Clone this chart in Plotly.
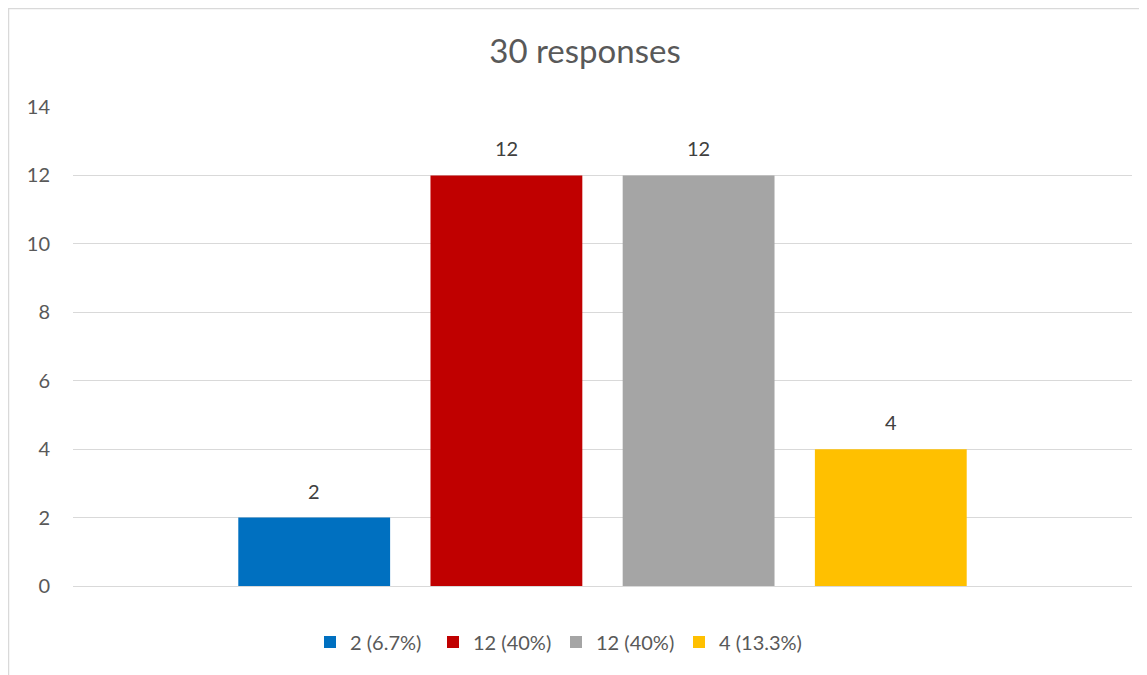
import plotly.graph_objects as go

series_names = ["2 (6.7%)", "12 (40%)", "12 (40%)", "4 (13.3%)"]
series_values = [2, 12, 12, 4]
series_colors = ["#0070C0", "#C00000", "#A5A5A5", "#FFC000"]
y_ticks = [0, 2, 4, 6, 8, 10, 12, 14]
title_text = "30 responses"

FONT = "Lato, 'Open Sans', sans-serif"
TXT = "#595959"

# figure sits at (8, 8) in the page because of the default body margin
W, H = 1139, 667
L, R, T, B = 65, 15, 99, 89
pw, ph = W - L - R, H - T - B

def px_x(x):
    return (x - L) / pw

def px_y(y):
    return (H - B - y) / ph

fig = go.Figure()
for i, (name, val, col) in enumerate(zip(series_names, series_values, series_colors)):
    fig.add_trace(go.Bar(
        x=[i], y=[val], name=name, width=0.79,
        marker=dict(color=col, line=dict(width=0)),
        hovertemplate="%{y}<extra>" + name + "</extra>",
    ))
    fig.add_annotation(x=i, y=val, xref="x", yref="y", text=str(val),
                       showarrow=False, yanchor="bottom", yshift=13,
                       font=dict(family=FONT, size=20, color="#404040"))

fig.update_layout(
    width=W, height=H,
    margin=dict(l=L, r=R, t=T, b=B, pad=0),
    paper_bgcolor="white", plot_bgcolor="white",
    barmode="overlay",
    title=dict(text=title_text, x=px_x(585 - 8), xanchor="center", xref="paper",
               y=1 - 43 / H, yanchor="middle",
               font=dict(family=FONT, size=33, color=TXT)),
    font=dict(family=FONT, size=20, color=TXT),
    legend=dict(orientation="h", x=px_x(556 - 8), xanchor="center", xref="paper",
                y=px_y(634), yanchor="middle", font=dict(family=FONT, size=20, color=TXT),
                itemwidth=30, traceorder="normal", entrywidth=78, entrywidthmode="pixels"),
    showlegend=True,
    xaxis=dict(range=[-1.255, 4.255], showticklabels=False, showgrid=False, zeroline=False,
               showline=False, ticks=""),
    yaxis=dict(range=[0, 14], tickvals=y_ticks, showgrid=True, gridcolor="#D9D9D9", gridwidth=1,
               zeroline=True, zerolinecolor="#D9D9D9", zerolinewidth=1, showline=False,
               ticks="", ticklabelstandoff=22, tickfont=dict(family=FONT, size=20, color=TXT)),
    shapes=[dict(type="rect", xref="paper", yref="paper",
                 x0=px_x(0.5), x1=px_x(W + 5), y0=px_y(H + 5), y1=px_y(0.5),
                 line=dict(color="#D9D9D9", width=1.5), fillcolor="rgba(0,0,0,0)", layer="below")],
)

fig.write_html("out.html")
